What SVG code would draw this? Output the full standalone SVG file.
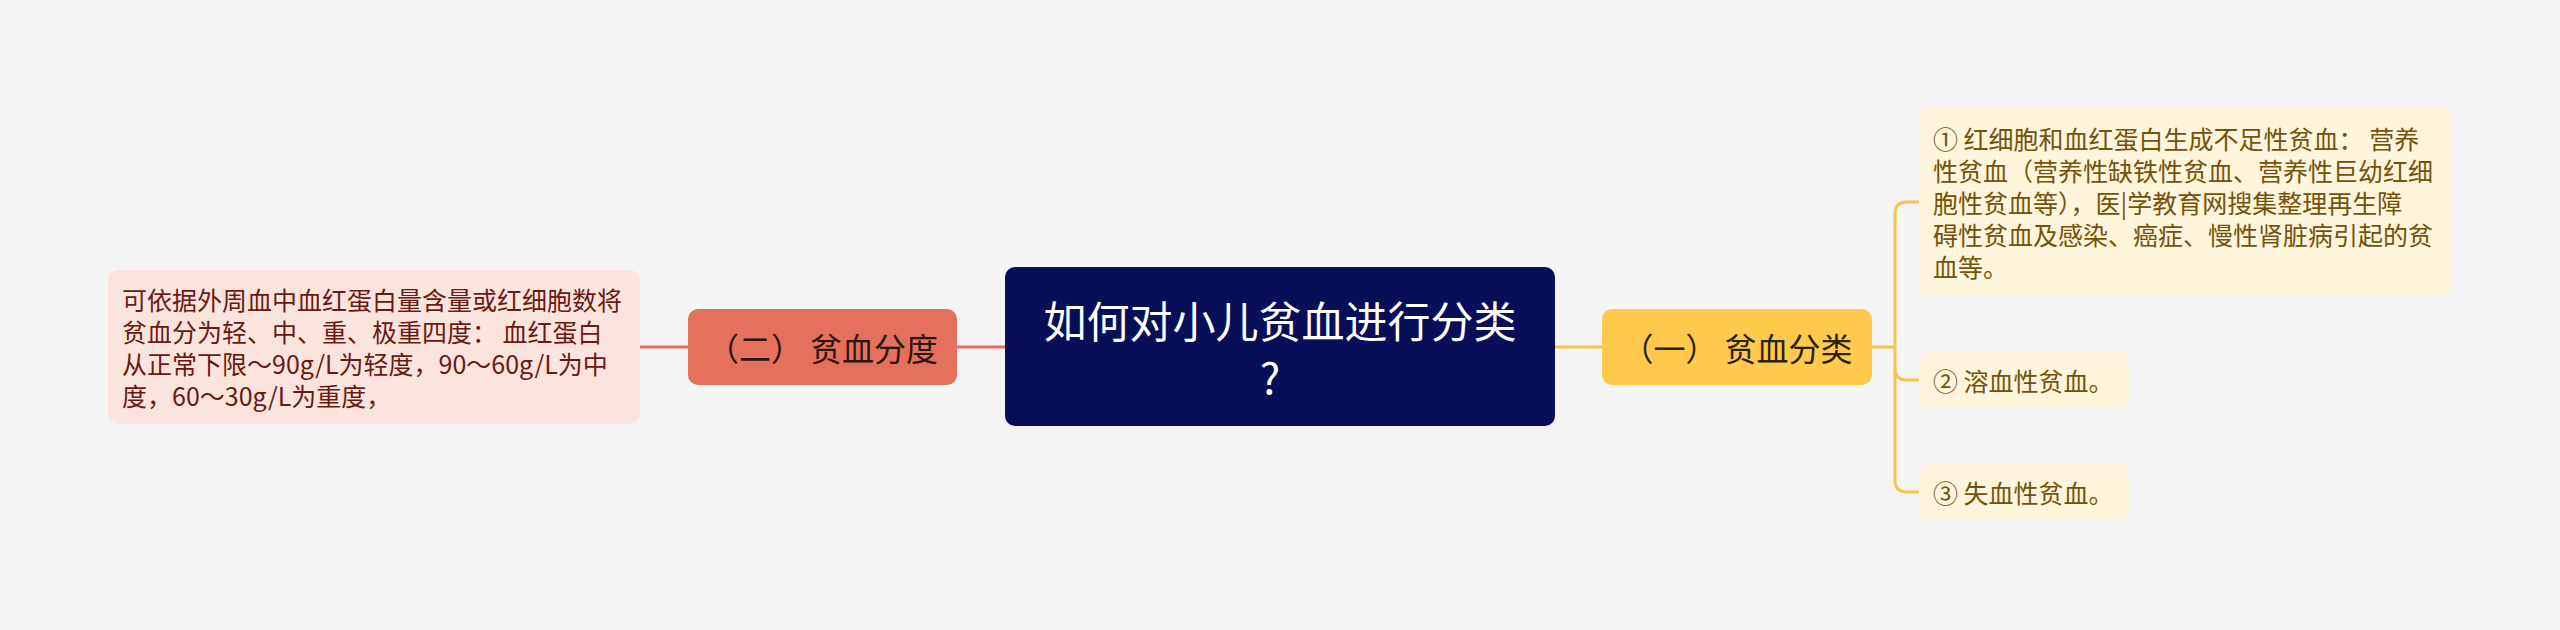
<svg xmlns="http://www.w3.org/2000/svg" width="2560" height="630" viewBox="0 0 2560 630">
<style>
text{font-family:"Noto Sans CJK SC","Noto Sans",sans-serif;dominant-baseline:central}
.center-t{font-size:43px;fill:#ffffff;text-anchor:middle}
.branch-t{font-size:32px;text-anchor:middle}
.leaf-t{font-size:25px}
.lc{fill:none;stroke:#E2705B;stroke-width:3}
.rc{fill:none;stroke:#F7C54E;stroke-width:3}
</style>
<rect width="2560" height="630" fill="#F5F5F5"/>
<g id="connectors">
<path class="lc" d="M1005 347 H957"/>
<path class="lc" d="M688 347 H640"/>
<path class="rc" d="M1555 347 H1602"/>
<path class="rc" d="M1872 347 H1895"/>
<path class="rc" d="M1919 202 H1907 Q1895 202 1895 214 V480 Q1895 492 1907 492 H1919"/>
<path class="rc" d="M1895 368 Q1895 380 1907 380 H1919"/>
</g>
<g id="center">
<rect x="1005" y="267" width="550" height="159" rx="10" fill="#080E58"/>
<text class="center-t" x="1280" y="319">如何对小儿贫血进行分类</text>
<text class="center-t" x="1270" y="375">?</text>
</g>
<g id="branch-left">
<rect x="688" y="309" width="269" height="76" rx="10" fill="#E5705B"/>
<text class="branch-t" x="822.5" y="347" fill="#2A1712">（二） 贫血分度</text>
</g>
<g id="leaf-left">
<rect x="108" y="270" width="532" height="154" rx="10" fill="#FBE3DE"/>
<text class="leaf-t" fill="#6A1A10">
<tspan x="122" y="299">可依据外周血中血红蛋白量含量或红细胞数将</tspan>
<tspan x="122" y="331">贫血分为轻、中、重、极重四度： 血红蛋白</tspan>
<tspan x="122" y="363">从正常下限～90g/L为轻度，90～60g/L为中</tspan>
<tspan x="122" y="395">度，60～30g/L为重度，</tspan>
</text>
</g>
<g id="branch-right">
<rect x="1602" y="309" width="270" height="76" rx="10" fill="#FFC94B"/>
<text class="branch-t" x="1737" y="347" fill="#2A2208">（一） 贫血分类</text>
</g>
<g id="leaf-right-1">
<rect x="1919" y="108" width="533" height="188" rx="10" fill="#FFF4DC"/>
<text class="leaf-t" fill="#755208">
<tspan x="1933" y="138">① 红细胞和血红蛋白生成不足性贫血： 营养</tspan>
<tspan x="1933" y="170">性贫血（营养性缺铁性贫血、营养性巨幼红细</tspan>
<tspan x="1933" y="202">胞性贫血等），医|学教育网搜集整理再生障</tspan>
<tspan x="1933" y="234">碍性贫血及感染、癌症、慢性肾脏病引起的贫</tspan>
<tspan x="1933" y="266">血等。</tspan>
</text>
</g>
<g id="leaf-right-2">
<rect x="1919" y="352" width="210" height="56" rx="10" fill="#FFF4DC"/>
<text class="leaf-t" x="1933" y="380" fill="#755208">② 溶血性贫血。</text>
</g>
<g id="leaf-right-3">
<rect x="1919" y="464" width="210" height="56" rx="10" fill="#FFF4DC"/>
<text class="leaf-t" x="1933" y="492" fill="#755208">③ 失血性贫血。</text>
</g>
</svg>
